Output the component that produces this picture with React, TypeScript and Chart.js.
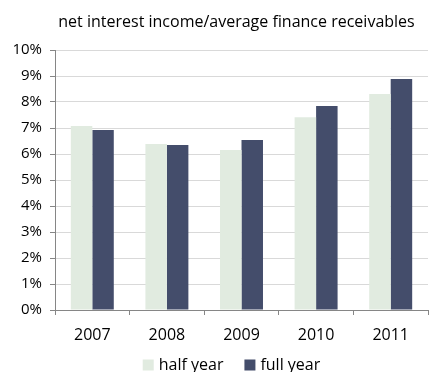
import React, { useEffect, useRef } from "react";
import { Chart, registerables } from "chart.js";

Chart.register(...registerables);

const categories = ["2007", "2008", "2009", "2010", "2011"];
const halfYear = [7.08, 6.38, 6.15, 7.41, 8.31];
const fullYear = [6.92, 6.35, 6.54, 7.85, 8.88];
const titleText = "net interest income/average finance receivables";
const seriesNames = ["half year", "full year"];
const seriesColors = ["#E1EBE0", "#444D6B"];

const FONT = "'Open Sans', sans-serif";

const titleLegendPlugin = {
  id: "titleLegend",
  afterDraw(chart: any) {
    const ctx = chart.ctx as CanvasRenderingContext2D;
    const area = chart.chartArea;
    ctx.save();
    // title
    ctx.fillStyle = "#000";
    ctx.font = `16px ${FONT}`;
    ctx.textAlign = "center";
    ctx.textBaseline = "alphabetic";
    ctx.fillText(titleText, (area.left + area.right) / 2 - 5, 27);
    // legend
    ctx.font = `16px ${FONT}`;
    const box = 11;
    const gapText = 5;
    const gapItem = 21;
    const widths = seriesNames.map((n) => ctx.measureText(n).width);
    let total = 0;
    widths.forEach((w, i) => {
      total += box + gapText + w + (i < widths.length - 1 ? gapItem : 0);
    });
    let x = (area.left + area.right) / 2 - 10 - total / 2;
    const cy = 365;
    ctx.textAlign = "left";
    ctx.textBaseline = "middle";
    seriesNames.forEach((n, i) => {
      ctx.fillStyle = seriesColors[i];
      ctx.fillRect(x, cy - box / 2, box, box);
      x += box + gapText;
      ctx.fillStyle = "#000";
      ctx.fillText(n, x, cy);
      x += widths[i] + gapItem;
    });
    ctx.restore();
  },
};

export default function App() {
  const ref = useRef<HTMLCanvasElement | null>(null);
  useEffect(() => {
    document.body.style.margin = "0";
    const ctx = ref.current!.getContext("2d")!;
    const chart = new Chart(ctx, {
      type: "bar",
      data: {
        labels: categories,
        datasets: [
          {
            label: seriesNames[0],
            data: halfYear,
            backgroundColor: seriesColors[0],
            barPercentage: 1.0,
            categoryPercentage: 0.576,
          },
          {
            label: seriesNames[1],
            data: fullYear,
            backgroundColor: seriesColors[1],
            barPercentage: 1.0,
            categoryPercentage: 0.576,
          },
        ],
      },
      plugins: [titleLegendPlugin],
      options: {
        responsive: false,
        animation: false,
        devicePixelRatio: 1,
        layout: { padding: { left: 0, right: 1, top: 50, bottom: 27 } },
        plugins: {
          title: { display: false },
          legend: { display: false },
          tooltip: { enabled: false },
        },
        scales: {
          x: {
            afterFit: (scale: any) => {
              scale.height = 35;
            },
            grid: {
              offset: true,
              drawOnChartArea: false,
              drawTicks: true,
              tickLength: 5,
              color: "#868686",
            },
            border: { color: "#868686" },
            ticks: {
              color: "#000",
              font: { family: FONT, size: 16 },
              padding: 11,
            },
          },
          y: {
            min: 0,
            max: 10,
            afterFit: (scale: any) => {
              scale.width = 55;
            },
            grid: {
              color: "#D9D9D9",
              tickLength: 5,
              tickColor: "#868686",
            },
            border: { color: "#868686" },
            ticks: {
              stepSize: 1,
              color: "#000",
              font: { family: FONT, size: 15 },
              padding: 8,
              callback: (v: any) => v + "%",
            },
          },
        },
      },
    });
    return () => chart.destroy();
  }, []);
  return (
    <div style={{ position: "absolute", left: 0, top: 0, width: 429, height: 372 }}>
      <canvas ref={ref} width={429} height={372} style={{ width: 429, height: 372 }} />
    </div>
  );
}
